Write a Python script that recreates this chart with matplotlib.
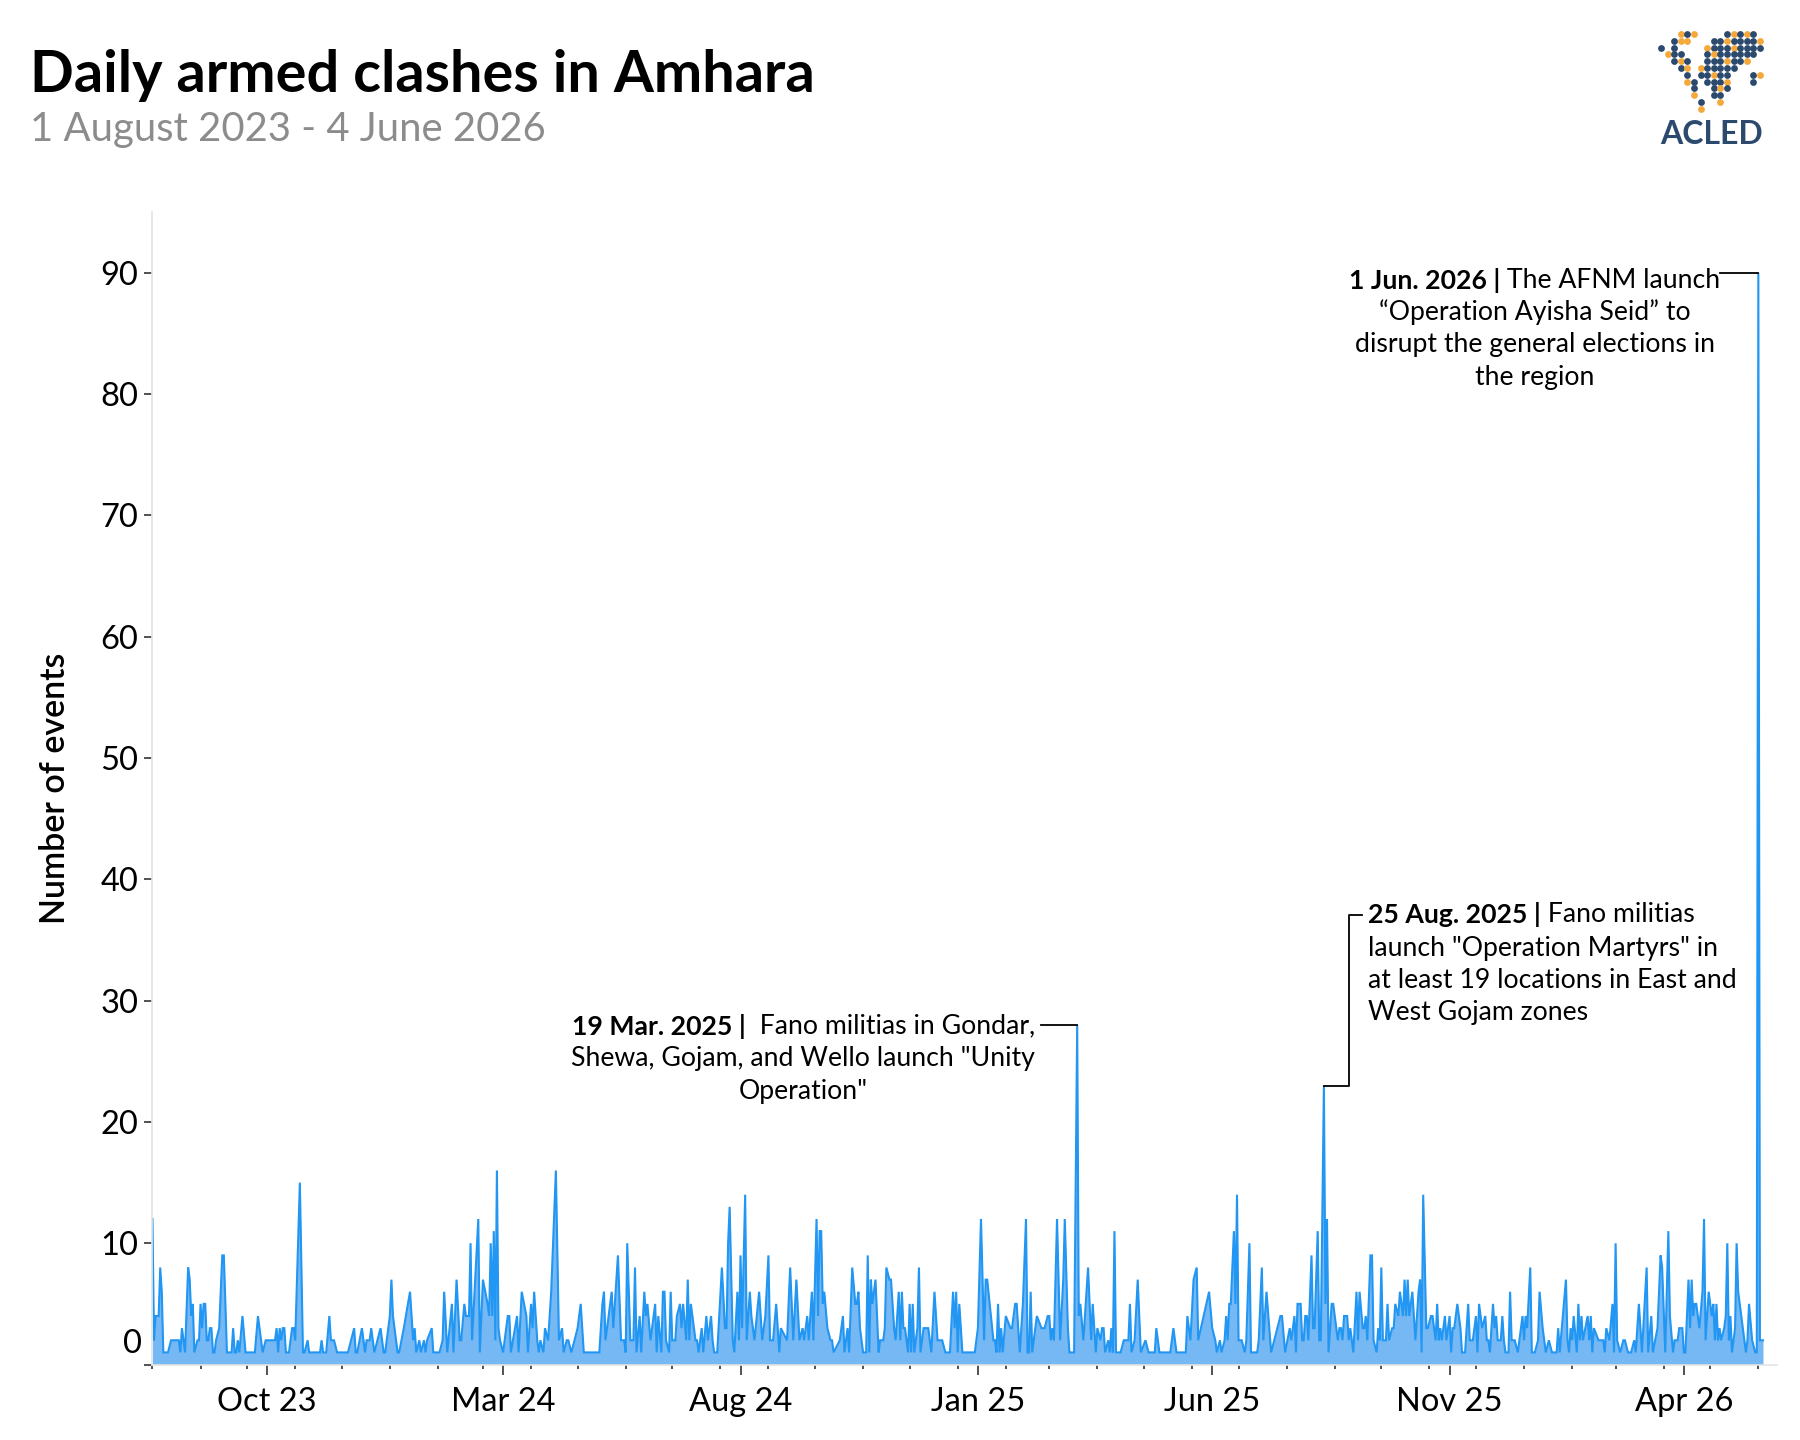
import numpy as np
import matplotlib
matplotlib.use("Agg")
import matplotlib.pyplot as plt
import matplotlib.dates as mdates
from matplotlib.transforms import offset_copy

plt.rcParams['font.family'] = ['Lato', 'DejaVu Sans']

# ---------------- data ----------------
start_date = '2023-08-01'
# daily armed clashes from 1 Aug 2023; 0 = day without a plotted point
daily_clashes = [
    12, 2, 4, 4, 4, 8, 6, 1, 1, 1,
    1, 0, 2, 2, 2, 2, 2, 2, 1, 3,
    0, 1, 0, 8, 7, 4, 5, 1, 0, 2,
    2, 5, 3, 5, 5, 2, 2, 3, 3, 1,
    1, 2, 0, 3, 0, 9, 9, 0, 1, 1,
    1, 1, 3, 1, 1, 2, 1, 0, 4, 0,
    1, 1, 1, 1, 1, 1, 1, 0, 4, 0,
    0, 1, 0, 2, 2, 2, 2, 2, 2, 2,
    3, 1, 3, 2, 3, 3, 1, 1, 1, 0,
    3, 3, 2, 0, 0, 15, 0, 1, 1, 0,
    2, 1, 1, 1, 1, 1, 1, 1, 1, 2,
    1, 1, 1, 0, 4, 2, 2, 2, 0, 1,
    1, 1, 1, 1, 1, 1, 1, 0, 0, 0,
    3, 1, 1, 0, 0, 3, 0, 1, 2, 2,
    2, 3, 0, 1, 0, 2, 0, 3, 0, 1,
    1, 0, 0, 4, 7, 4, 0, 0, 1, 1,
    0, 0, 3, 0, 0, 0, 6, 0, 2, 3,
    1, 0, 2,
    # day 173
    1, 0, 2, 1, 2, 0, 0, 3, 1, 1,
    1, 1, 1, 0, 2, 6, 0, 1, 0, 0,
    5, 1, 0, 7, 0, 2, 2, 0, 5, 4,
    4, 4, 10, 2, 0, 7, 0, 12, 1, 4,
    7, 0, 0, 5, 4, 10, 4, 11, 2, 16,
    3, 2, 0, 1, 0, 0, 4, 4, 1, 0,
    0, 0, 4, 1, 0, 6, 0, 0, 4, 1,
    0, 5, 3, 6, 0, 2, 1, 2, 0, 1,
    3, 0, 2, 0, 6, 0, 0, 16, 0, 2,
    0, 3, 1, 0, 2, 2, 0, 1, 0, 0,
    0, 3, 0, 5, 0, 1, 1, 1, 1, 1,
    1, 1, 1, 1, 1, 1, 0, 5, 6, 2,
    0, 4, 0, 6, 3, 0, 0, 9, 0, 2,
    2, 2, 1, 10, 0, 2, 2, 2, 8, 1,
    0, 4, 1, 0, 6, 4, 5, 0, 2, 3,
    0, 5, 1, 4, 0, 1, 6, 6, 2, 0,
    1, 6, 2, 2, 2, 4, 0, 5, 3, 5,
    0, 2, 7, 2,
    # day 347
    5, 0, 3, 2, 2, 1, 0, 3, 1, 0,
    4, 2, 0, 4, 2, 1, 1, 1, 0, 0,
    8, 0, 3, 3, 10, 13, 0, 2, 1, 0,
    6, 2, 9, 3, 0, 14, 2, 0, 6, 4,
    0, 2, 0, 0, 6, 0, 2, 0, 4, 0,
    9, 2, 2, 2, 0, 5, 0, 1, 3, 0,
    0, 0, 2, 0, 8, 0, 2, 0, 7, 0,
    2, 0, 3, 2, 0, 4, 2, 0, 6, 2,
    0, 12, 4, 11, 11, 5, 6, 0, 3, 0,
    2, 2, 1, 0, 0, 0, 2, 0, 4, 1,
    0, 3, 1, 0, 8, 0, 5, 5, 6, 3,
    0, 1, 1, 1, 9, 1, 7, 5, 0, 7,
    0, 1, 2, 2, 2, 3, 8, 0, 7, 7,
    0, 3, 2, 0, 6, 2, 6, 3, 3, 0,
    1, 5, 1, 5, 1, 0, 3, 8, 1, 0,
    3, 3, 3, 3, 0, 1, 0, 6, 0, 2,
    2, 2, 2, 0, 1, 1, 1, 1, 0, 6,
    3, 6, 1, 5,
    # day 521
    0, 1, 1, 1, 1, 1, 1, 1, 1, 1,
    0, 3, 0, 12, 0, 2, 7, 7, 0, 0,
    0, 2, 2, 1, 5, 1, 3, 1, 0, 4,
    0, 0, 3, 3, 0, 5, 5, 0, 1, 0,
    5, 0, 12, 1, 1, 6, 1, 0, 0, 4,
    0, 0, 3, 3, 3, 0, 4, 4, 2, 3,
    2, 0, 12, 0, 2, 0, 7, 12, 0, 3,
    1, 1, 1, 1, 0, 28, 4, 5, 0, 2,
    0, 0, 8, 0, 2, 5, 0, 1, 3, 0,
    2, 3, 3, 1, 0, 2, 1, 3, 1, 11,
    1, 1, 1, 1, 0, 2, 2, 2, 2, 5,
    1, 0, 2, 0, 7, 0, 1, 0, 0, 2,
    0, 1, 1, 1, 1, 1, 3, 0, 1, 1,
    1, 1, 1, 1, 1, 1, 0, 3, 0, 1,
    1, 1, 1, 1, 1, 1, 4, 0, 2, 0,
    7, 0, 8, 2, 0, 0, 0, 0, 0, 0,
    6, 0, 3, 0, 2, 1, 0, 2, 1, 0,
    2, 4, 2, 5,
    # day 695
    5, 0, 11, 5, 14, 2, 2, 2, 0, 1,
    2, 0, 10, 1, 1, 1, 1, 1, 2, 0,
    8, 2, 0, 6, 0, 0, 1, 0, 0, 0,
    0, 0, 4, 4, 0, 1, 0, 0, 3, 2,
    0, 4, 1, 5, 5, 5, 2, 2, 4, 4,
    2, 0, 9, 3, 3, 0, 11, 2, 2, 0,
    23, 5, 12, 1, 0, 5, 5, 0, 0, 2,
    3, 3, 2, 4, 4, 4, 2, 3, 0, 1,
    0, 6, 2, 6, 0, 3, 3, 4, 2, 0,
    9, 9, 2, 0, 1, 3, 2, 8, 2, 2,
    2, 5, 2, 0, 3, 3, 5, 0, 4, 6,
    0, 4, 7, 4, 7, 4, 0, 6, 4, 2,
    0, 6, 7, 1, 14, 0, 3, 3, 0, 4,
    4, 0, 2, 5, 2, 3, 2, 0, 4, 2,
    0, 4, 1, 3, 3, 0, 5, 0, 3, 1,
    1, 1, 3, 5, 2, 2, 2, 0, 4, 1,
    5, 0, 3, 0, 4, 2, 2, 1, 0, 5,
    3, 4, 2,
    # day 868
    2, 2, 4, 2, 1, 1, 1, 6, 2, 2,
    2, 0, 1, 0, 0, 4, 2, 4, 3, 0,
    8, 1, 1, 1, 0, 2, 6, 0, 3, 0,
    1, 0, 2, 0, 1, 1, 1, 1, 3, 1,
    0, 4, 0, 7, 2, 1, 3, 2, 4, 0,
    1, 5, 2, 4, 2, 0, 0, 4, 2, 4,
    1, 3, 0, 0, 2, 2, 2, 2, 1, 3,
    0, 2, 0, 5, 1, 10, 2, 0, 1, 0,
    2, 2, 0, 1, 1, 1, 0, 2, 1, 0,
    5, 0, 1, 0, 0, 8, 1, 0, 4, 1,
    0, 0, 3, 0, 9, 8, 0, 1, 0, 11,
    4, 0, 1, 2, 0, 2, 3, 3, 3, 1,
    1, 0, 7, 3, 7, 4, 5, 5, 0, 3,
    0, 6, 12, 2, 0, 6, 0, 4, 5, 2,
    5, 2, 3, 2, 0, 3, 4, 10, 2, 4,
    1, 0, 3, 10, 6, 0, 0, 3, 0, 1,
    2, 5, 0, 2, 0, 1, 1, 90, 2, 2,
    2,
]

title_text = 'Daily armed clashes in Amhara'
subtitle_text = '1 August 2023 - 4 June 2026'
y_label = 'Number of events'
y_ticks = [0, 10, 20, 30, 40, 50, 60, 70, 80, 90]
x_major_ticks = ['2023-10-14', '2024-03-14', '2024-08-14', '2025-01-14',
                 '2025-06-14', '2025-11-14', '2026-04-14']
x_major_labels = ['Oct 23', 'Mar 24', 'Aug 24', 'Jan 25', 'Jun 25', 'Nov 25', 'Apr 26']

ann_unity = [[('19 Mar. 2025 |', 'bold'), ('  Fano militias in Gondar,', 'normal')],
             [('Shewa, Gojam, and Wello launch "Unity', 'normal')],
             [('Operation"', 'normal')]]
ann_martyrs = [[('25 Aug. 2025 |', 'bold'), (' Fano militias', 'normal')],
               [('launch "Operation Martyrs" in', 'normal')],
               [('at least 19 locations in East and', 'normal')],
               [('West Gojam zones', 'normal')]]
ann_afnm = [[('1 Jun. 2026 |', 'bold'), (' The AFNM launch', 'normal')],
            [('\u201cOperation Ayisha Seid\u201d to', 'normal')],
            [('disrupt the general elections in', 'normal')],
            [('the region', 'normal')]]

# ---------------- style ----------------
LINE_C = '#2196f3'
FILL_C = '#76b8f4'
AXIS_C = '#e3e3e3'
NAVY = '#2b4a6e'
ORANGE = '#f5a93b'
TICK_FS = 23.5
ANN_FS = 19.2

fig = plt.figure(figsize=(18, 14.4), dpi=100)
ax = fig.add_axes([0.0847, 0.0524, 0.9025, 0.8002])

t0 = mdates.date2num(np.datetime64(start_date))
vals = np.array(daily_clashes, dtype=float)
xs = t0 + np.arange(len(vals))
m = vals > 0
ax.fill_between(xs[m], vals[m], 0, color=FILL_C, lw=0, zorder=1)
ax.plot(xs[m], vals[m], color=LINE_C, lw=1.5, zorder=2, solid_joinstyle='miter')

ax.set_xlim(t0, t0 + 1047)
ax.set_ylim(0, 95)

for s in ['top', 'right']:
    ax.spines[s].set_visible(False)
for s in ['left', 'bottom']:
    ax.spines[s].set_color(AXIS_C)
    ax.spines[s].set_linewidth(1.2)

ax.set_yticks(y_ticks)
ax.set_yticklabels([''] + [str(v) for v in y_ticks[1:]])
ax.tick_params(axis='y', length=6, width=1.2, color='#333333', pad=4,
               labelsize=TICK_FS, labelcolor='black')
ax.annotate('0', xy=(0, 0), xycoords=('axes fraction', 'data'),
            xytext=(-10, 21), textcoords='offset pixels', ha='right', va='center',
            fontsize=TICK_FS, color='black')

ax.set_xticks(mdates.date2num(np.array(x_major_ticks, dtype='datetime64[D]')))
ax.set_xticklabels(x_major_labels)
minor = np.arange('2023-08', '2026-07', dtype='datetime64[M]').astype('datetime64[D]')
ax.set_xticks(mdates.date2num(minor), minor=True)
ax.tick_params(axis='x', which='major', length=7, width=1.2, color='#333333', pad=9,
               labelsize=TICK_FS, labelcolor='black')
ax.tick_params(axis='x', which='minor', length=3, width=1.2, color='#333333')

ax.set_ylabel(y_label, fontsize=24.5, fontweight='semibold')
ax.yaxis.set_label_coords(-0.050, 0.5)

# titles
fig.text(30 / 1800, 1 - 92 / 1440, title_text, fontsize=41.5, fontweight='bold',
         va='baseline', ha='left', color='black')
fig.text(30 / 1800, 1 - 141 / 1440, subtitle_text, fontsize=28.8,
         va='baseline', ha='left', color='#8c8c8c')

# ---------------- annotations ----------------
fig.canvas.draw()
renderer = fig.canvas.get_renderer()


def rich_line(xd, yd, parts, ha):
    texts, widths = [], []
    for s, w in parts:
        t = ax.text(xd, yd, s, fontsize=ANN_FS, fontweight=w, ha='left', va='center',
                    color='black', zorder=5)
        widths.append(t.get_window_extent(renderer).width)
        texts.append(t)
    total = sum(widths)
    off = {'left': 0, 'center': -total / 2, 'right': -total}[ha]
    for t, wd in zip(texts, widths):
        t.set_transform(offset_copy(ax.transData, fig=fig, x=off, y=0, units='dots'))
        off += wd


def block(lines, xday, ys, ha):
    for parts, yv in zip(lines, ys):
        rich_line(t0 + xday, yv, parts, ha)


block(ann_unity, 419.5, [27.9, 25.2, 22.5], 'center')
ax.plot([t0 + 572.6, t0 + 596], [28, 28], color='black', lw=1.3, zorder=4)

block(ann_martyrs, 783.4, [37.1, 34.3, 31.7, 29.0], 'left')
ax.plot([t0 + 755, t0 + 771, t0 + 771, t0 + 779.7], [23, 23, 37.1, 37.1],
        color='black', lw=1.3, zorder=4)

block(ann_afnm, 890.8, [89.4, 86.8, 84.1, 81.4], 'center')
ax.plot([t0 + 1010.6, t0 + 1035], [90, 90], color='black', lw=1.3, zorder=4)

# ---------------- logo ----------------
lax = fig.add_axes([1656 / 1800, 1 - 148 / 1440, 112 / 1800, 120 / 1440])
lax.set_xlim(0, 112)
lax.set_ylim(120, 0)
lax.axis('off')
logo_mask = [
    "...oxo....xoxox.",
    "..xoo...xxoxxxxo",
    "x.x....oxxxoxxxx",
    ".oxx...xoxxxxxx.",
    "..xox..xxxoxxo..",
    "...xo.oxxxxx....",
    "....x.xxoxx...xo",
    "....ox.xxxo...x.",
    ".....x..xox.....",
    ".....o..xx......",
    "......x..o......",
    "......o.........",
]
for r, row in enumerate(logo_mask):
    for c, ch in enumerate(row):
        if ch != '.':
            lax.scatter(5 + c * 6.6, 6 + r * 6.8, s=24,
                        color=NAVY if ch == 'x' else ORANGE, lw=0)
lax.text(56, 106, 'ACLED', ha='center', va='center', fontsize=23, color=NAVY,
         fontweight='bold')

fig.savefig('out.png', dpi=100)
